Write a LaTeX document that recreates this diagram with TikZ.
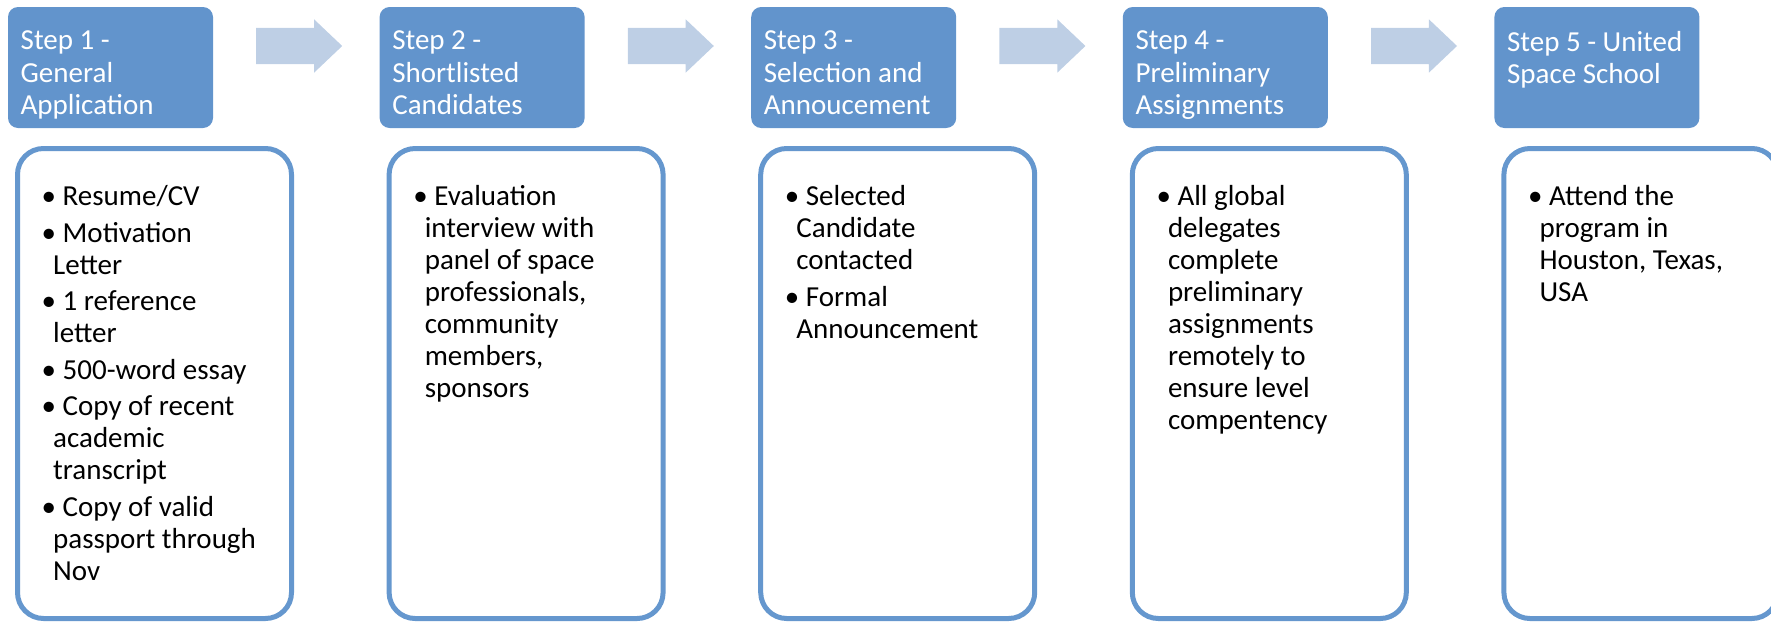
\documentclass[tikz,border=0pt]{standalone}
\usepackage{fontspec}
\setmainfont{Carlito}
\usetikzlibrary{shapes.arrows}
\definecolor{headblue}{RGB}{98,148,204}
\definecolor{rimblue}{RGB}{101,151,206}
\definecolor{arrowblue}{RGB}{190,207,229}
\newcommand{\bul}{\textbullet\ }
\newcommand{\wrap}{\hspace*{11.5pt}}

\begin{document}
\begin{tikzpicture}[x=1pt,y=-1pt,
        stephead/.style={fill=headblue, rounded corners=10pt, minimum width=205pt,
            minimum height=121pt, inner sep=0pt},
        stepbody/.style={draw=rimblue, line width=5pt, fill=white, rounded corners=26pt,
            minimum width=274pt, minimum height=470pt, inner sep=0pt},
        steparrow/.style={single arrow, fill=arrowblue, minimum height=86pt, minimum width=0pt,
            inner xsep=0pt, inner ysep=18pt, single arrow head extend=8.5pt,
            single arrow tip angle=87, single arrow head indent=0pt, anchor=tail},
        headtext/.style={text=white, inner sep=0pt, align=left, anchor=north west,
            font=\fontsize{29}{32.4}\selectfont, execute at begin node=\strut},
        bodytext/.style={text=black, inner sep=0pt, align=left, anchor=north west,
            font=\fontsize{29}{32}\selectfont, execute at begin node=\strut}]
        \useasboundingbox (0,0) rectangle (1771,624);

        \node (h1) [stephead] at (110.5,67.5) {};
        \node (h2) [stephead] at (482.1,67.5) {};
        \node (h3) [stephead] at (853.7,67.5) {};
        \node (h4) [stephead] at (1225.3,67.5) {};
        \node (h5) [stephead] at (1596.9,67.5) {};

        \node (a1) [steparrow] at (256,46) {};
        \node (a2) [steparrow] at (627.6,46) {};
        \node (a3) [steparrow] at (999.2,46) {};
        \node (a4) [steparrow] at (1370.8,46) {};

        \node (b1) [stepbody] at (154.5,383.5) {};
        \node (b2) [stepbody] at (526.1,383.5) {};
        \node (b3) [stepbody] at (897.7,383.5) {};
        \node (b4) [stepbody] at (1269.3,383.5) {};
        \node (b5) [stepbody] at (1640.9,383.5) {};

        \node (t1) [headtext] at (20.5,30.8) {Step 1 -\\General\\Application};
        \node (t2) [headtext] at (392.1,30.8) {Step 2 -\\Shortlisted\\Candidates};
        \node (t3) [headtext] at (763.7,30.8) {Step 3 -\\Selection and\\Annoucement};
        \node (t4) [headtext] at (1135.3,30.8) {Step 4 -\\Preliminary\\Assignments};
        \node (t5) [headtext] at (1506.9,30.8) {Step 5 - United\\Space School};

        \node (l1) [bodytext] at (41.5,185.6) {\bul Resume/CV\\[4.5pt]
            \bul Motivation\\ \wrap Letter\\[4.5pt]
            \bul 1 reference\\ \wrap letter\\[4.5pt]
            \bul 500-word essay\\[4.5pt]
            \bul Copy of recent\\ \wrap academic\\ \wrap transcript\\[4.5pt]
            \bul Copy of valid\\ \wrap passport through\\ \wrap Nov};
        \node (l2) [bodytext] at (413.1,185.6) {\bul Evaluation\\ \wrap interview with\\
            \wrap panel of space\\ \wrap professionals,\\ \wrap community\\
            \wrap members,\\ \wrap sponsors};
        \node (l3) [bodytext] at (784.7,185.6) {\bul Selected\\ \wrap Candidate\\
            \wrap contacted\\[4.5pt] \bul Formal\\ \wrap Announcement};
        \node (l4) [bodytext] at (1156.3,185.6) {\bul All global\\ \wrap delegates\\
            \wrap complete\\ \wrap preliminary\\ \wrap assignments\\
            \wrap remotely to\\ \wrap ensure level\\ \wrap compentency};
        \node (l5) [bodytext] at (1527.9,185.6) {\bul Attend the\\ \wrap program in\\
            \wrap Houston, Texas,\\ \wrap USA};
    \end{tikzpicture}
\end{document}
